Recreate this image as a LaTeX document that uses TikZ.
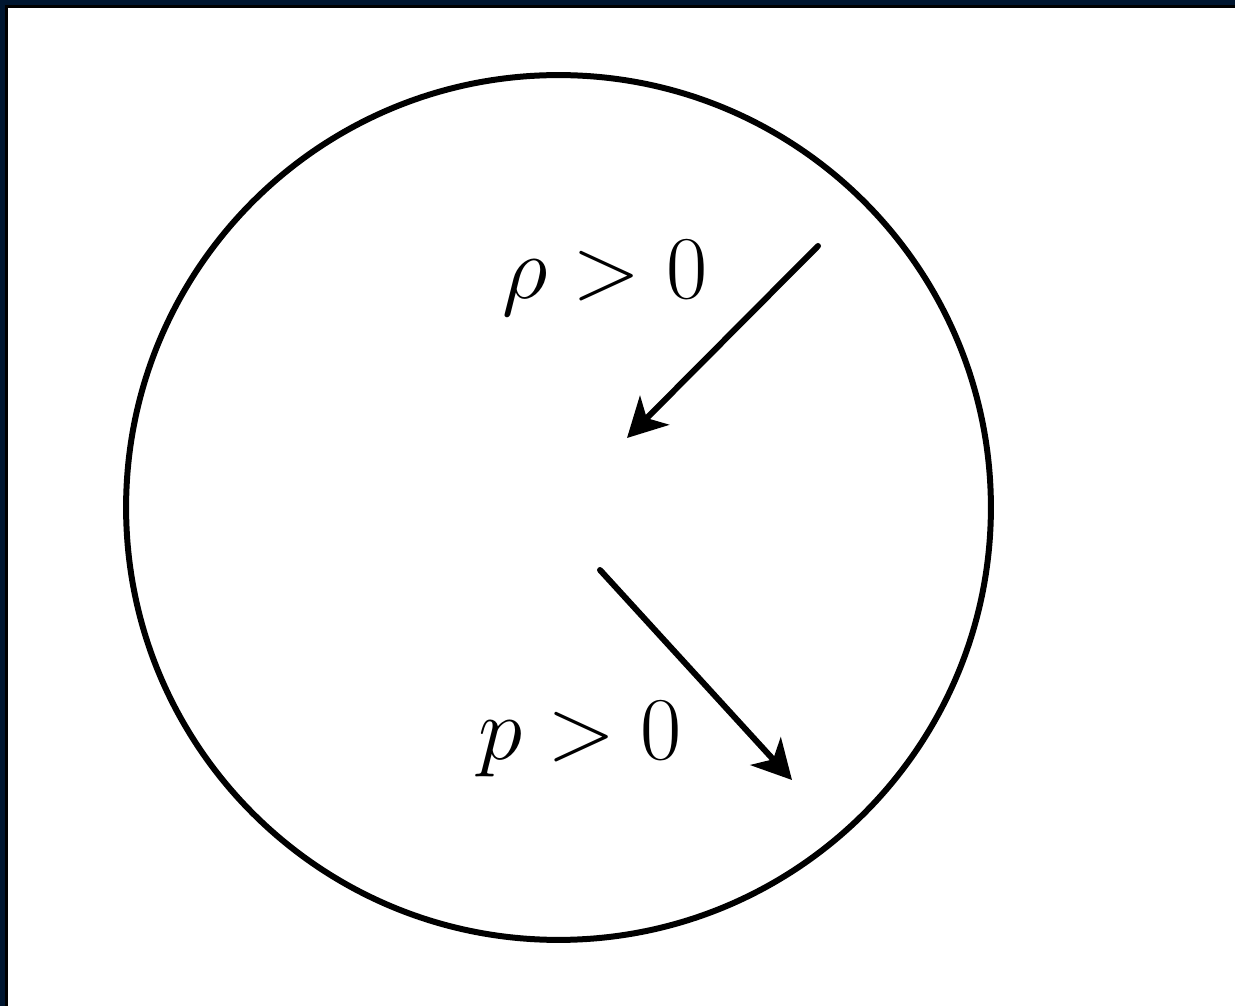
\documentclass[tikz,border=0pt]{standalone}
\usetikzlibrary{arrows.meta}
\definecolor{framenavy}{RGB}{0,22,48}
\begin{document}
\begin{tikzpicture}[
    x=0.02cm, y=-0.02cm,
    ball/.style={circle, draw, line width=0.12cm, minimum size=17.3cm, inner sep=0pt},
    flow/.style={-{Stealth[length=0.78cm, width=0.82cm, inset=0.22cm]}, line width=0.12cm, line cap=round},
    label/.style={font=\Huge, scale=2.05, transform shape, anchor=base, inner sep=0pt}
]
\useasboundingbox (0,0) rectangle (1235,1006);

% Frame of the screenshot
\fill[framenavy] (0,0) rectangle (1235,5);
\fill[framenavy] (0,0) rectangle (5,1006);
\fill[black] (5,5) rectangle (1235,8);
\fill[black] (5,5) rectangle (8,1006);

% Ball
\node[ball] (ball) at (558.5,507.5) {};

% Labels
\node[label] (rho) at (605,299) {$\rho > 0$};
\node[label] (pres) at (580,760) {$p > 0$};

% Arrow ends
\coordinate (rhostart) at (818,246);
\coordinate (rhoend) at (627,438);
\coordinate (pstart) at (600,570);
\coordinate (pend) at (792,780);

% Arrows
\draw[flow] (rhostart) -- (rhoend);
\draw[flow] (pstart) -- (pend);

\end{tikzpicture}
\end{document}
